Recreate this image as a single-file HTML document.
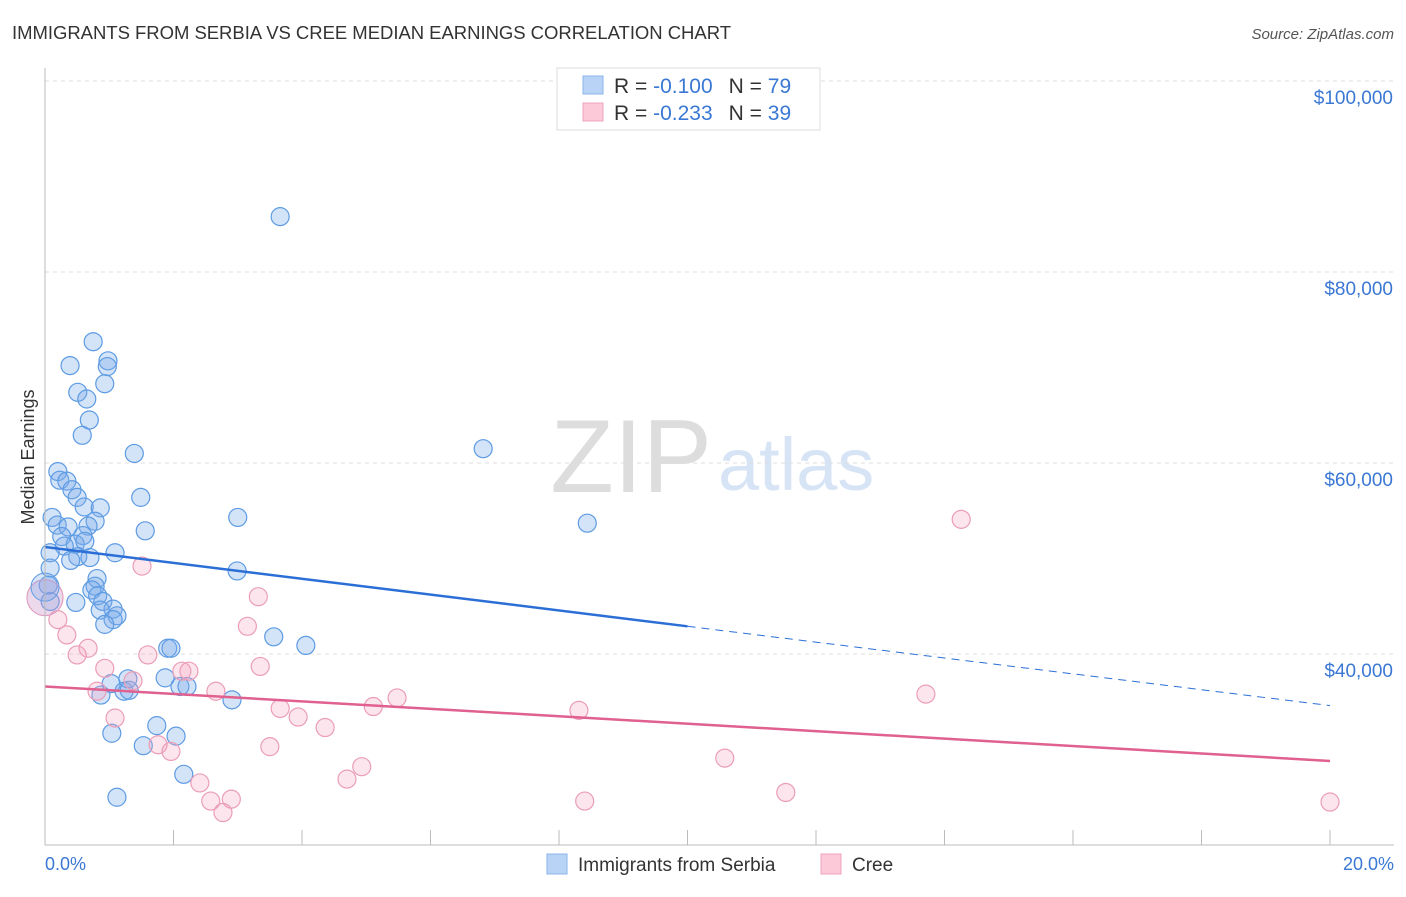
<!DOCTYPE html>
<html><head><meta charset="utf-8"><style>
body{margin:0;background:#fff;font-family:"Liberation Sans",sans-serif;}
svg text{font-family:"Liberation Sans",sans-serif;}
</style></head><body>
<svg id="chart" width="1406" height="892" xmlns="http://www.w3.org/2000/svg">
<text x="12" y="39" font-size="18.5" fill="#333" textLength="719">IMMIGRANTS FROM SERBIA VS CREE MEDIAN EARNINGS CORRELATION CHART</text>
<text x="1394" y="39" font-size="15" fill="#555" text-anchor="end" font-style="italic">Source: ZipAtlas.com</text>
<text x="712" y="492" font-size="104" fill="#ddd" text-anchor="end" font-family="Liberation Serif">ZIP</text>
<text x="718" y="490" font-size="74" fill="#d6e4f5">atlas</text>
<text transform="translate(34,457) rotate(-90)" font-size="18" fill="#333" text-anchor="middle">Median Earnings</text>
<g id="grid"></g><g id="pts"></g><g id="lines"></g>
<line x1="45" y1="68" x2="45" y2="845" stroke="#bbb"/>
<line x1="45" y1="845" x2="1394" y2="845" stroke="#bbb"/>
<text x="45" y="870" font-size="18" fill="#3a78d4">0.0%</text>
<text x="1394" y="870" font-size="18" fill="#3a78d4" text-anchor="end">20.0%</text>
<g>
<rect x="557" y="68" width="263" height="62" fill="#fff" stroke="#ddd"/>
<rect x="583" y="76" width="20" height="18" fill="#b8d3f5" stroke="#8ab4ea"/>
<rect x="583" y="103" width="20" height="18" fill="#fbc9d8" stroke="#eea5bd"/>
<text x="614" y="93" font-size="21" fill="#333">R = <tspan fill="#3a78d4">-0.100</tspan><tspan dx="16">N = </tspan><tspan fill="#3a78d4">79</tspan></text>
<text x="614" y="120" font-size="21" fill="#333">R = <tspan fill="#3a78d4">-0.233</tspan><tspan dx="16">N = </tspan><tspan fill="#3a78d4">39</tspan></text>
</g>
<g>
<rect x="547" y="854" width="20" height="20" fill="#b8d3f5" stroke="#8ab4ea"/>
<text x="578" y="871" font-size="19" fill="#333">Immigrants from Serbia</text>
<rect x="821" y="854" width="20" height="20" fill="#fbc9d8" stroke="#eea5bd"/>
<text x="852" y="871" font-size="19" fill="#333">Cree</text>
</g>
</svg>
<script>
const yTicks=[40000,60000,80000,100000];
const yTickLabels=["$40,000","$60,000","$80,000","$100,000"];
const xTicks=[0,2,4,6,8,10,12,14,16,18,20];
const serbiaX=[3.66,0.75,0.98,0.97,0.39,0.93,0.51,0.65,0.69,0.58,1.39,6.82,0.20,0.23,0.34,0.42,0.50,1.49,0.61,0.86,0.11,3.0,0.78,0.19,0.36,8.44,0.67,1.56,0.26,0.59,0.47,0.62,0.30,1.09,0.08,0.51,0.70,0.40,2.99,0.08,0.05,0.81,0.78,0.73,0.82,0.90,0.48,0.08,1.06,0.86,1.12,1.06,0.93,3.56,4.06,1.91,1.96,1.87,1.29,1.03,2.1,2.21,1.23,1.31,0.87,2.91,1.74,2.04,1.04,1.53,2.16,1.12];
const serbiaY=[85.8,72.7,70.7,70.1,70.2,68.3,67.4,66.7,64.5,62.9,61.0,61.5,59.1,58.2,58.1,57.2,56.4,56.4,55.4,55.3,54.3,54.3,53.9,53.5,53.3,53.7,53.4,52.9,52.3,52.4,51.5,51.8,51.3,50.6,50.6,50.2,50.1,49.8,48.7,49.0,47.2,47.9,47.1,46.7,46.1,45.5,45.4,45.5,44.7,44.6,44.0,43.6,43.1,41.8,40.9,40.6,40.6,37.5,37.4,36.9,36.6,36.6,36.1,36.2,35.7,35.2,32.5,31.4,31.7,30.4,27.4,25.0];
const creeX=[0.2,0.34,0.67,0.5,1.51,3.32,3.15,1.6,0.93,2.13,2.24,3.35,1.37,0.81,2.66,14.26,13.71,5.48,5.11,3.66,8.31,3.94,1.09,4.36,1.76,1.96,3.5,10.58,4.93,4.7,2.41,2.9,2.58,2.77,8.4,11.53,20.0];
const creeY=[43.6,42.0,40.6,39.9,49.2,46.0,42.9,39.9,38.5,38.2,38.2,38.7,37.2,36.1,36.1,54.1,35.8,35.4,34.5,34.3,34.1,33.4,33.3,32.3,30.5,29.8,30.3,29.1,28.2,26.9,26.5,24.8,24.6,23.4,24.6,25.5,24.5];
const serbiaTrend=[51.2,42.9,34.6];
const creeTrend=[36.6,28.8];
const X=v=>45+v*64.25;
const Y=k=>654-(k-40)*9.55;
const NS="http://www.w3.org/2000/svg";
function mk(t,a,p){const e=document.createElementNS(NS,t);for(const k in a)e.setAttribute(k,a[k]);p.appendChild(e);return e;}
const grid=document.getElementById('grid');
yTicks.forEach((v,i)=>{
 const l=mk('line',{x1:45,x2:1394,y1:Y(v/1000),y2:Y(v/1000),stroke:'#ddd','stroke-dasharray':'4,4'},grid);
 
 
 const t=mk('text',{x:1393,y:Y(v/1000)+23,'font-size':19,fill:'#3a78d4','text-anchor':'end'},grid);
 t.textContent=yTickLabels[i];
 
 
});
xTicks.forEach(v=>{
 const l=mk('line',{x1:X(v),x2:X(v),y1:830,y2:845,stroke:'#bbb'},grid);
 
 
});
const pts=document.getElementById('pts');
serbiaX.forEach((x,i)=>{
 const c=mk('circle',{cx:X(x),cy:Y(serbiaY[i]),r:9,fill:'rgba(120,170,235,0.33)',stroke:'#5d9be3','stroke-width':1.2},pts);
 
 
});
creeX.forEach((x,i)=>{
 const c=mk('circle',{cx:X(x),cy:Y(creeY[i]),r:9,fill:'rgba(245,160,190,0.28)',stroke:'#eb9db8','stroke-width':1.2},pts);
 
 
});
const big=mk('circle',{cx:X(0),cy:Y(45.9),r:18,fill:'rgba(200,150,200,0.35)',stroke:'#e0a0c0','stroke-width':1.2},pts);


const big2=mk('circle',{cx:X(0),cy:Y(47),r:14,fill:'rgba(120,170,235,0.3)',stroke:'#5d9be3','stroke-width':1},pts);


const lines=document.getElementById('lines');
const s1=mk('line',{x1:X(0),y1:Y(serbiaTrend[0]),x2:X(10),y2:Y(serbiaTrend[1]),stroke:'#2b6fd6','stroke-width':2.5},lines);


const s2=mk('line',{x1:X(10),y1:Y(serbiaTrend[1]),x2:X(20),y2:Y(serbiaTrend[2]),stroke:'#2b6fd6','stroke-width':1,'stroke-dasharray':'8,6'},lines);


const c1=mk('line',{x1:X(0),y1:Y(creeTrend[0]),x2:X(20),y2:Y(creeTrend[1]),stroke:'#e0608f','stroke-width':2.5},lines);


</script>
</body></html>
